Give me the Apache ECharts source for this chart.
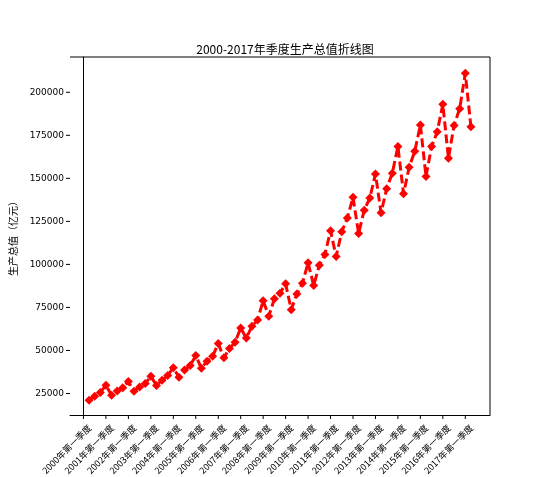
<!DOCTYPE html>
<html><head><meta charset="utf-8">
<script src="https://cdn.jsdelivr.net/npm/echarts@6/dist/echarts.min.js"></script>
<style>body{margin:0;background:#fff}#main{width:545px;height:477px}</style>
</head><body><div id="main"></div>
<script>
var years = ['2000','2001','2002','2003','2004','2005','2006','2007','2008','2009','2010','2011','2012','2013','2014','2015','2016','2017'];
var gdp = [
    21100, 23400, 25600, 29800,
    24000, 26400, 28400, 32000,
    26300, 28800, 30800, 35000,
    29700, 32700, 35400, 40000,
    34400, 38700, 41200, 47000,
    39700, 43800, 46700, 54000,
    45800, 51200, 54800, 63000,
    57200, 64000, 67700, 78900,
    69900, 80000, 83300, 88700,
    73700, 82800, 89000, 101000,
    87700, 99500, 105800, 119600,
    104600, 119000, 127000, 139000,
    118000, 131500, 138600, 152500,
    130000, 144000, 153000, 168500,
    141000, 156500, 165700, 181000,
    151000, 168500, 177000, 193000,
    161700, 180700, 190500, 211000,
    180000
];
var tickLabels = years.map(function (y) { return y + '年第一季度'; });

var points = [];
for (var i = 0; i < gdp.length; i++) {
    points.push([i + 1, gdp[i]]);
}

var chart = echarts.init(document.getElementById('main'));
chart.setOption({
    animation: false,
    title: {
        text: '2000-2017年季度生产总值折线图',
        left: 280, top: 38, textAlign: 'center',
        textStyle: {fontSize: 12, fontWeight: 'normal', color: '#000', fontFamily: 'Noto Sans CJK SC'}
    },
    grid: {left: 70, right: 55, top: 57, bottom: 62},
    xAxis: {
        type: 'value', min: -2.4, max: 72.4, interval: 4,
        splitLine: {show: false},
        axisLine: {lineStyle: {color: '#000'}},
        axisTick: {show: false},
        axisLabel: {show: false}
    },
    yAxis: {
        type: 'value', min: 12500, max: 220500,
        name: '生产总值（亿元）', nameLocation: 'middle', nameGap: 52,
        nameTextStyle: {fontSize: 10, color: '#000', fontFamily: 'Noto Sans CJK SC'},
        splitLine: {show: false},
        axisLine: {show: true, lineStyle: {color: '#000'}},
        axisTick: {show: false},
        axisLabel: {show: false}
    },
    series: [{
        type: 'line',
        data: points,
        symbol: 'diamond', symbolSize: 9,
        itemStyle: {color: '#ff0000'},
        lineStyle: {color: '#ff0000', width: 3, type: [9, 4]},
        z: 3
    }, {
        // y ticks
        type: 'scatter', data: [], silent: true
    }],
    graphic: []
});

// draw ticks and labels using the chart's own scales
var g = [];
for (var k = 0; k < tickLabels.length; k++) {
    var p = chart.convertToPixel({gridIndex: 0}, [k * 4, 12500]);
    g.push({type: 'line', shape: {x1: p[0], y1: p[1], x2: p[0], y2: p[1] + 4}, style: {stroke: '#000', lineWidth: 1}});
    g.push({type: 'text', x: p[0] + 3, y: p[1] + 8, rotation: Math.PI / 4,
        style: {text: tickLabels[k], align: 'right', verticalAlign: 'top', fontSize: 9, fill: '#000', fontFamily: 'Noto Sans CJK SC'}});
}
for (var v = 25000; v <= 200000; v += 25000) {
    var q = chart.convertToPixel({gridIndex: 0}, [-2.4, v]);
    g.push({type: 'line', shape: {x1: q[0] - 4, y1: q[1], x2: q[0], y2: q[1]}, style: {stroke: '#000', lineWidth: 1}});
    g.push({type: 'text', x: q[0] - 6, y: q[1],
        style: {text: String(v), align: 'right', verticalAlign: 'middle', fontSize: 9, fill: '#000', fontFamily: 'DejaVu Sans'}});
}
var tl = chart.convertToPixel({gridIndex: 0}, [72.4, 220500]);
var br = chart.convertToPixel({gridIndex: 0}, [72.4, 12500]);
g.push({type: 'line', shape: {x1: tl[0], y1: tl[1], x2: br[0], y2: br[1]}, style: {stroke: '#000', lineWidth: 1}});
var tl2 = chart.convertToPixel({gridIndex: 0}, [-2.4, 220500]);
g.push({type: 'line', shape: {x1: tl2[0], y1: tl2[1], x2: tl[0], y2: tl[1]}, style: {stroke: '#000', lineWidth: 1}});
chart.setOption({graphic: g});
</script>
</body></html>
